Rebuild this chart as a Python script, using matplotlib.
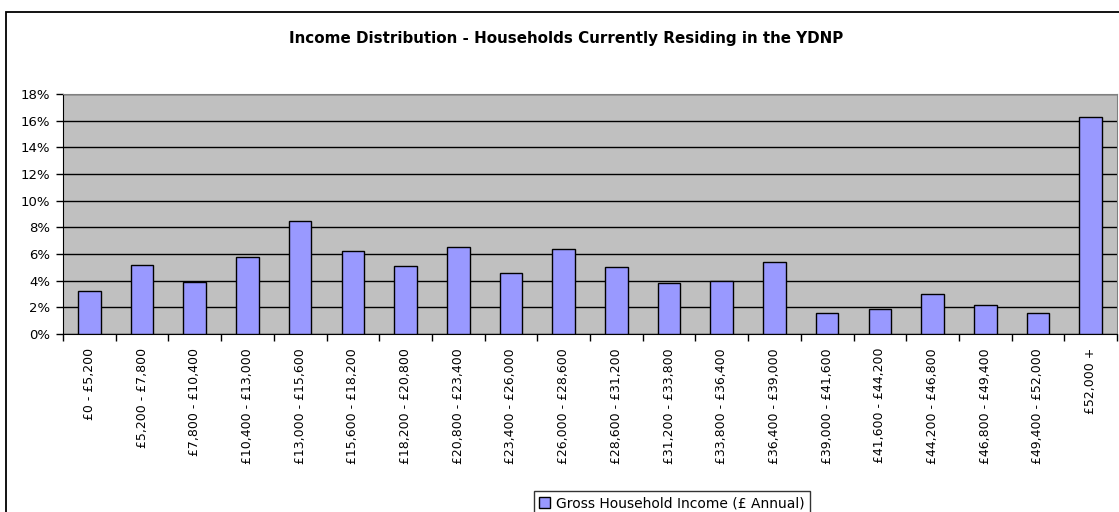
import matplotlib
matplotlib.use("Agg")
import matplotlib.pyplot as plt
import numpy as np
from matplotlib.patches import Rectangle
from matplotlib.ticker import FuncFormatter

income_bands = [
    "£0 - £5,200", "£5,200 - £7,800", "£7,800 - £10,400", "£10,400 - £13,000",
    "£13,000 - £15,600", "£15,600 - £18,200", "£18,200 - £20,800", "£20,800 - £23,400",
    "£23,400 - £26,000", "£26,000 - £28,600", "£28,600 - £31,200", "£31,200 - £33,800",
    "£33,800 - £36,400", "£36,400 - £39,000", "£39,000 - £41,600", "£41,600 - £44,200",
    "£44,200 - £46,800", "£46,800 - £49,400", "£49,400 - £52,000", "£52,000 +",
]
household_share = [
    3.2, 5.2, 3.9, 5.8, 8.5, 6.2, 5.1, 6.5, 4.6, 6.4,
    5.0, 3.8, 4.0, 5.4, 1.6, 1.9, 3.0, 2.2, 1.6, 16.3,
]
y_ticks = [0, 2, 4, 6, 8, 10, 12, 14, 16, 18]

plt.rcParams["font.family"] = ["DejaVu Sans"]

W, H = 1119, 512
fig = plt.figure(figsize=(W / 100, H / 100), dpi=100)

# outer chart border (right and bottom edges fall outside the image)
fig.patches.append(Rectangle((6 / W, -0.1), 1.2, (H - 12) / H + 0.1, transform=fig.transFigure,
                             fill=False, edgecolor="black", linewidth=1.3))

ax = fig.add_axes([63 / W, (H - 334) / H, (1117 - 63) / W, (334 - 94) / H])
ax.set_facecolor("#C0C0C0")

x = np.arange(len(income_bands))
ax.bar(x, household_share, width=0.43, color="#9999FF", edgecolor="black", linewidth=1.0,
       zorder=3, label="Gross Household Income (£ Annual)")

ax.set_xlim(-0.5, len(income_bands) - 0.5)
ax.set_ylim(0, 18)
ax.set_yticks(y_ticks)
ax.yaxis.set_major_formatter(FuncFormatter(lambda v, _: f"{v:.0f}%"))
ax.yaxis.grid(True, color="black", linewidth=1.0, zorder=1)
ax.set_axisbelow(True)

ax.set_xticks(x)
ax.set_xticklabels(income_bands, rotation=90, fontsize=9)
ax.set_xticks(np.arange(len(income_bands) + 1) - 0.5, minor=True)
ax.tick_params(axis="x", which="major", length=0, pad=10)
ax.tick_params(axis="x", which="minor", length=5, width=1, color="black")
ax.tick_params(axis="y", length=5, width=1, labelsize=9.5, pad=4)

for side in ["top", "right"]:
    ax.spines[side].set_color("#808080")
ax.spines["left"].set_color("black")
ax.spines["bottom"].set_color("black")

fig.text(566 / W, 1 - 38 / H, "Income Distribution - Households Currently Residing in the YDNP",
         ha="center", va="center", fontsize=10.9, fontweight="bold")

leg = fig.legend(loc="upper center", bbox_to_anchor=(672 / W, 1 - 491 / H), frameon=True,
                 fancybox=False, edgecolor="black", fontsize=10, handlelength=0.8,
                 handleheight=0.8, handletextpad=0.4, borderpad=0.4, borderaxespad=0)
leg.get_frame().set_linewidth(1.0)

fig.savefig("out.png", dpi=100)
